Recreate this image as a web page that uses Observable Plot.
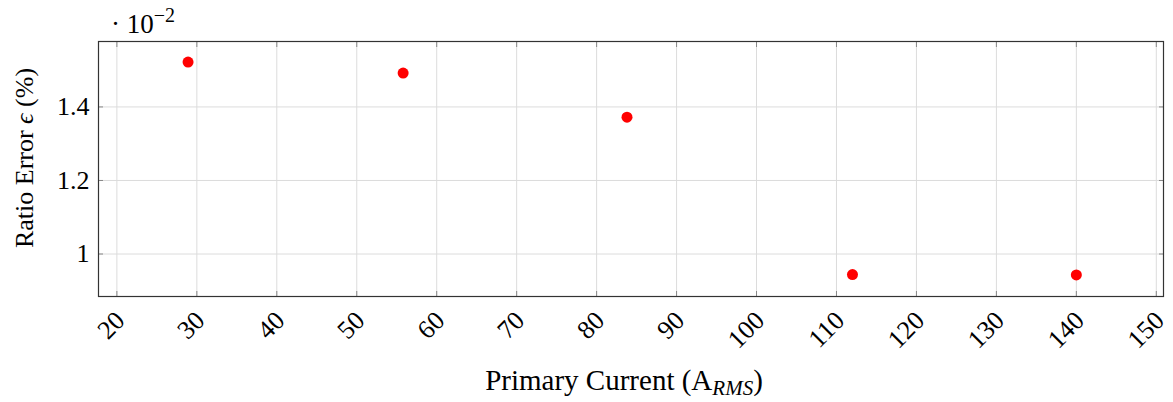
<!DOCTYPE html>
<html>
<head>
<meta charset="utf-8">
<script src="https://cdn.jsdelivr.net/npm/d3@7"></script>
<script src="https://cdn.jsdelivr.net/npm/@observablehq/plot@0.6"></script>
<style>
  html, body { margin: 0; padding: 0; background: #fff; }
  svg { display: block; }
</style>
</head>
<body>
<div id="chart"></div>
<script>
// Data (ratio error in units of 10^-2 %)
const current = [28.9, 55.8, 83.8, 112, 140];
const ratioError = [1.522, 1.492, 1.372, 0.944, 0.943];
const xTicks = [20, 30, 40, 50, 60, 70, 80, 90, 100, 110, 120, 130, 140, 150];
const yTicks = [1, 1.2, 1.4];
const yTickLabels = ["1", "1.2", "1.4"];

const points = current.map((c, i) => ({x: c, y: ratioError[i]}));
const font = "'Liberation Serif', 'DejaVu Serif', serif";

const plot = Plot.plot({
  width: 1173,
  height: 402,
  marginLeft: 98,
  marginRight: 10,
  marginTop: 41,
  marginBottom: 106,
  x: {domain: [17.7, 150.9]},
  y: {domain: [0.8844, 1.578]},
  style: {fontFamily: font, fontSize: "26px", background: "#fff", color: "#000"},
  marks: [
    Plot.gridX(xTicks, {stroke: "#dcdcdc", strokeOpacity: 1, strokeWidth: 1}),
    Plot.gridY(yTicks, {stroke: "#dcdcdc", strokeOpacity: 1, strokeWidth: 1}),
    Plot.axisX(xTicks, {anchor: "bottom", tickSize: -5, stroke: "#888", text: null, label: null}),
    Plot.axisX(xTicks, {anchor: "top", tickSize: -5, stroke: "#888", text: null, label: null}),
    Plot.axisY(yTicks, {anchor: "left", tickSize: -5, stroke: "#888", text: null, label: null}),
    Plot.axisY(yTicks, {anchor: "right", tickSize: -5, stroke: "#888", text: null, label: null}),
    Plot.axisX(xTicks, {anchor: "bottom", tickSize: 0, tickPadding: 14, tickRotate: -45, textAnchor: "end", dx: 3.5, dy: 5.7, label: null, fill: "#000", fontSize: 26}),
    Plot.axisY(yTicks, {anchor: "left", tickSize: 0, tickPadding: 9, tickFormat: (d, i) => yTickLabels[i], label: null, fill: "#000", fontSize: 26}),
    Plot.frame({stroke: "#333", strokeWidth: 1.2}),
    Plot.dot(points, {x: "x", y: "y", r: 5.5, fill: "#ff0000", stroke: "none"})
  ]
});

const svg = d3.select(plot);
// multiplier above frame
const mult = svg.append("text").attr("x", 111).attr("y", 33).attr("text-anchor", "start")
  .attr("font-family", font).attr("font-size", 27).attr("fill", "#000");
mult.append("tspan").text("\u00B7 10");
mult.append("tspan").attr("dy", -11).attr("font-size", 20).text("\u2212" + "2");

// x label
const xl = svg.append("text").attr("x", 624).attr("y", 390).attr("text-anchor", "middle")
  .attr("font-family", font).attr("font-size", 29).attr("fill", "#000");
xl.append("tspan").text("Primary Current (A");
xl.append("tspan").attr("dy", 5).attr("font-size", 21).attr("font-style", "italic").text("RMS");
xl.append("tspan").attr("dy", -5).text(")");

// y label
const yl = svg.append("text").attr("transform", "translate(33,158) rotate(-90)").attr("text-anchor", "middle")
  .attr("font-family", font).attr("font-size", 26).attr("fill", "#000");
yl.append("tspan").text("Ratio Error ");
yl.append("tspan").attr("font-style", "italic").text("\u03F5");
yl.append("tspan").text(" (%)");

document.getElementById("chart").appendChild(plot);
</script>
</body>
</html>
